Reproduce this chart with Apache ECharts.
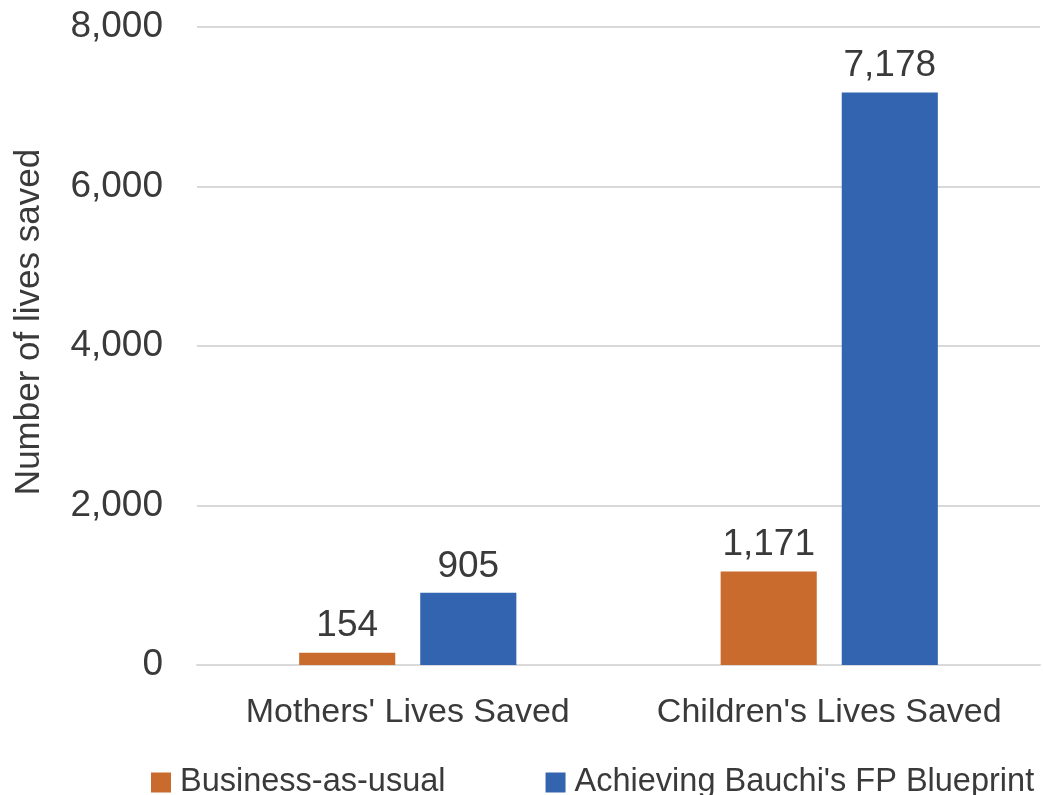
<!DOCTYPE html>
<html>
<head>
<meta charset="utf-8">
<script src="https://cdn.jsdelivr.net/npm/echarts@6/dist/echarts.min.js"></script>
<style>html,body{margin:0;padding:0;background:#fff}#c{width:1043px;height:795px}</style>
</head>
<body>
<div id="c"></div>
<script>
const categories = ["Mothers' Lives Saved", "Children's Lives Saved"];
const seriesNames = ["Business-as-usual", "Achieving Bauchi's FP Blueprint"];
const businessAsUsual = [154, 1171];
const blueprint = [905, 7178];
const yTicks = [0, 2000, 4000, 6000, 8000];

const FONT = "'Liberation Sans', Arial, sans-serif";
const TXT = '#3a3a3a';
const chart = echarts.init(document.getElementById('c'));
const fmt = v => Number(v).toLocaleString('en-US');
chart.setOption({
  animation: false,
  textStyle: { fontFamily: FONT },
  grid: { left: 197, right: 3, top: 27, bottom: 130 },
  legend: {
    left: 151, top: 766, width: 1000, padding: 0,
    itemWidth: 20, itemHeight: 20, itemGap: 100,
    icon: 'rect',
    textStyle: { fontSize: 32.5, color: TXT, fontFamily: FONT, padding: [0, 0, 0, 4] },
    data: seriesNames
  },
  xAxis: {
    type: 'category', data: categories,
    axisLine: { lineStyle: { color: '#d9d9d9', width: 2 } },
    axisTick: { show: false },
    axisLabel: { fontSize: 34, color: TXT, margin: 31, interval: 0, fontFamily: FONT }
  },
  yAxis: {
    type: 'value', min: yTicks[0], max: yTicks[yTicks.length - 1], interval: 2000,
    name: 'Number of lives saved', nameLocation: 'middle', nameGap: 150,
    nameTextStyle: { fontSize: 35, color: TXT, fontFamily: FONT, padding: [0, 0, 0, 48] },
    axisLine: { show: false }, axisTick: { show: false },
    splitLine: { lineStyle: { color: '#d9d9d9', width: 2 } },
    axisLabel: { fontSize: 37, color: TXT, margin: 34, formatter: fmt, fontFamily: FONT }
  },
  series: [
    {
      name: seriesNames[0], type: 'bar', data: businessAsUsual,
      barWidth: '22.8%', barGap: '26%',
      itemStyle: { color: '#c86b2d' },
      label: { show: true, position: 'top', fontSize: 37, color: TXT, formatter: p => fmt(p.value), distance: 8, fontFamily: FONT }
    },
    {
      name: seriesNames[1], type: 'bar', data: blueprint,
      barWidth: '22.8%', barGap: '26%',
      itemStyle: { color: '#3264b0' },
      label: { show: true, position: 'top', fontSize: 37, color: TXT, formatter: p => fmt(p.value), distance: 8, fontFamily: FONT }
    }
  ]
});
</script>
</body>
</html>
